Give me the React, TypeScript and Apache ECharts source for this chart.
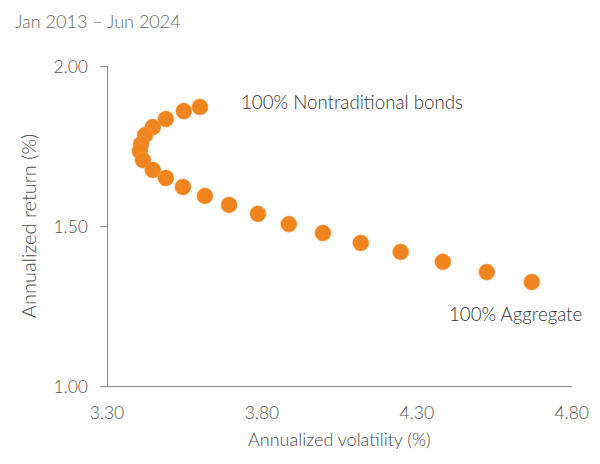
import React, { useEffect, useRef } from "react";
import * as echarts from "echarts";

const titleText = "Jan 2013 – Jun 2024";
const xAxisName = "Annualized volatility (%)";
const yAxisName = "Annualized return (%)";
const xTicks = [3.3, 3.8, 4.3, 4.8];
const yTicks = [1.0, 1.5, 2.0];
// Portfolio mixes from 100% Nontraditional bonds to 100% Aggregate
const volatility = [
  3.6, 3.548, 3.49, 3.448, 3.423, 3.41, 3.406, 3.416, 3.448, 3.49, 3.545,
  3.616, 3.694, 3.787, 3.887, 3.997, 4.119, 4.248, 4.384, 4.526, 4.671,
];
const annReturn = [
  1.872, 1.859, 1.834, 1.809, 1.784, 1.756, 1.734, 1.706, 1.675, 1.65, 1.622,
  1.594, 1.566, 1.538, 1.506, 1.478, 1.447, 1.419, 1.388, 1.356, 1.325,
];
const startLabel = "100% Nontraditional bonds";
const endLabel = "100% Aggregate";

export default function App() {
  const ref = useRef<HTMLDivElement>(null);
  useEffect(() => {
    if (!ref.current) return;
    const chart = echarts.init(ref.current, undefined, { renderer: "svg" });
    const font = "Lato, 'Open Sans', sans-serif";
    const data = volatility.map((v, i) => [v, annReturn[i]]);
    chart.setOption({
      animation: false,
      backgroundColor: "#ffffff",
      textStyle: { fontFamily: font, fontWeight: 300 },
      title: {
        text: titleText,
        left: 2,
        top: -1,
        textStyle: { fontFamily: font, fontSize: 18, fontWeight: 300, color: "#6a6a6a" },
      },
      grid: { left: 99, right: 20, top: 58, bottom: 70, containLabel: false },
      xAxis: {
        type: "value",
        min: xTicks[0],
        max: xTicks[xTicks.length - 1],
        name: xAxisName,
        nameLocation: "middle",
        nameGap: 44,
        nameTextStyle: { fontFamily: font, fontSize: 18, fontWeight: 300, color: "#4a4a4a" },
        axisLine: { show: true, onZero: false, lineStyle: { color: "#8c8c8c", width: 1 } },
        axisTick: { show: false },
        splitLine: { show: false },
        axisLabel: {
          customValues: xTicks,
          formatter: (v: number) => v.toFixed(2),
          fontFamily: font,
          fontSize: 17.5,
          fontWeight: 300,
          color: "#555",
          margin: 17,
        },
      },
      yAxis: {
        type: "value",
        min: yTicks[0],
        max: yTicks[yTicks.length - 1],
        interval: 0.5,
        name: yAxisName,
        nameLocation: "middle",
        nameGap: 69,
        nameRotate: 90,
        nameTextStyle: { fontFamily: font, fontSize: 20, fontWeight: 300, color: "#4a4a4a" },
        axisLine: { show: true, onZero: false, lineStyle: { color: "#8c8c8c", width: 1 } },
        axisTick: { show: true, inside: false, length: 7, lineStyle: { color: "#8c8c8c" } },
        splitLine: { show: false },
        axisLabel: {
          formatter: (v: number) => v.toFixed(2),
          fontFamily: font,
          fontSize: 17.5,
          fontWeight: 300,
          color: "#555",
          margin: 19,
        },
      },
      series: [
        {
          type: "scatter",
          data,
          symbol: "circle",
          symbolSize: 16,
          itemStyle: { color: "#F0841F", opacity: 1, borderColor: "#F59A48", borderWidth: 0.6 },
        },
      ],
      graphic: [
        {
          type: "text",
          left: 233,
          top: 84,
          style: { text: startLabel, fontFamily: font, fontSize: 18.7, fontWeight: 300, fill: "#333" },
        },
        {
          type: "text",
          left: 441,
          top: 296,
          style: { text: endLabel, fontFamily: font, fontSize: 18.7, fontWeight: 300, fill: "#333" },
        },
      ],
    });
    return () => chart.dispose();
  }, []);
  return <div ref={ref} style={{ width: 584, height: 448 }} />;
}
